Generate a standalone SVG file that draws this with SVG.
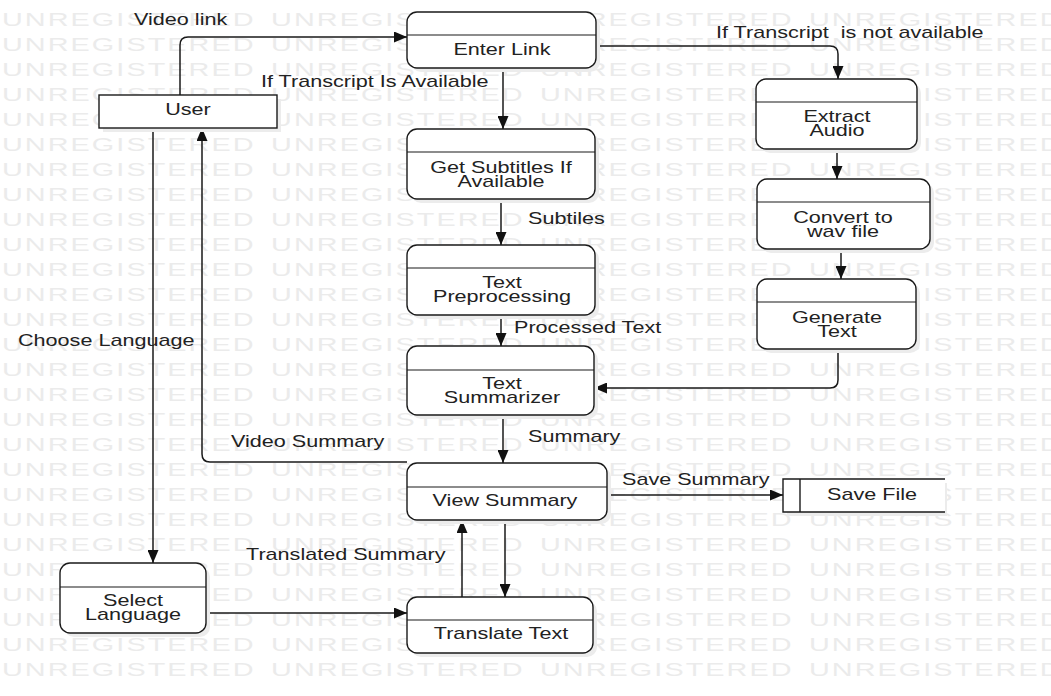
<svg xmlns="http://www.w3.org/2000/svg" width="1051" height="696" viewBox="0 0 1051 696">
<style>
.wm{font-family:"Liberation Sans",Arial,sans-serif;font-size:18px;fill:#ebebeb;letter-spacing:1.3px}
.t{font-family:"Liberation Sans",Arial,sans-serif;font-size:16px;fill:#222}
.c{text-anchor:middle}
.box{fill:#fff;stroke:#1a1a1a;stroke-width:1.4}
.sh{fill:#ececec}
.div{stroke:#1a1a1a;stroke-width:1.2}
.ln{fill:none;stroke:#1a1a1a;stroke-width:1.5}
</style>
<defs>
<marker id="ah" markerUnits="userSpaceOnUse" markerWidth="13" markerHeight="11" refX="13" refY="5.5" orient="auto">
<path d="M0,0 L13,5.5 L0,11 z" fill="#111"/>
</marker>
</defs>
<rect width="1051" height="696" fill="#fff"/>
<g id="watermark" transform="scale(1.6 1)">
<text class="wm" y="26"><tspan x="1.25">UNREGISTERED</tspan><tspan x="169.4">UNREGISTERED</tspan><tspan x="337.5">UNREGISTERED</tspan><tspan x="505.6">UNREGISTERED</tspan></text>
<text class="wm" y="51"><tspan x="1.25">UNREGISTERED</tspan><tspan x="169.4">UNREGISTERED</tspan><tspan x="337.5">UNREGISTERED</tspan><tspan x="505.6">UNREGISTERED</tspan></text>
<text class="wm" y="76"><tspan x="1.25">UNREGISTERED</tspan><tspan x="169.4">UNREGISTERED</tspan><tspan x="337.5">UNREGISTERED</tspan><tspan x="505.6">UNREGISTERED</tspan></text>
<text class="wm" y="101"><tspan x="1.25">UNREGISTERED</tspan><tspan x="169.4">UNREGISTERED</tspan><tspan x="337.5">UNREGISTERED</tspan><tspan x="505.6">UNREGISTERED</tspan></text>
<text class="wm" y="126"><tspan x="1.25">UNREGISTERED</tspan><tspan x="169.4">UNREGISTERED</tspan><tspan x="337.5">UNREGISTERED</tspan><tspan x="505.6">UNREGISTERED</tspan></text>
<text class="wm" y="151"><tspan x="1.25">UNREGISTERED</tspan><tspan x="169.4">UNREGISTERED</tspan><tspan x="337.5">UNREGISTERED</tspan><tspan x="505.6">UNREGISTERED</tspan></text>
<text class="wm" y="176"><tspan x="1.25">UNREGISTERED</tspan><tspan x="169.4">UNREGISTERED</tspan><tspan x="337.5">UNREGISTERED</tspan><tspan x="505.6">UNREGISTERED</tspan></text>
<text class="wm" y="201"><tspan x="1.25">UNREGISTERED</tspan><tspan x="169.4">UNREGISTERED</tspan><tspan x="337.5">UNREGISTERED</tspan><tspan x="505.6">UNREGISTERED</tspan></text>
<text class="wm" y="226"><tspan x="1.25">UNREGISTERED</tspan><tspan x="169.4">UNREGISTERED</tspan><tspan x="337.5">UNREGISTERED</tspan><tspan x="505.6">UNREGISTERED</tspan></text>
<text class="wm" y="251"><tspan x="1.25">UNREGISTERED</tspan><tspan x="169.4">UNREGISTERED</tspan><tspan x="337.5">UNREGISTERED</tspan><tspan x="505.6">UNREGISTERED</tspan></text>
<text class="wm" y="276"><tspan x="1.25">UNREGISTERED</tspan><tspan x="169.4">UNREGISTERED</tspan><tspan x="337.5">UNREGISTERED</tspan><tspan x="505.6">UNREGISTERED</tspan></text>
<text class="wm" y="301"><tspan x="1.25">UNREGISTERED</tspan><tspan x="169.4">UNREGISTERED</tspan><tspan x="337.5">UNREGISTERED</tspan><tspan x="505.6">UNREGISTERED</tspan></text>
<text class="wm" y="326"><tspan x="1.25">UNREGISTERED</tspan><tspan x="169.4">UNREGISTERED</tspan><tspan x="337.5">UNREGISTERED</tspan><tspan x="505.6">UNREGISTERED</tspan></text>
<text class="wm" y="351"><tspan x="1.25">UNREGISTERED</tspan><tspan x="169.4">UNREGISTERED</tspan><tspan x="337.5">UNREGISTERED</tspan><tspan x="505.6">UNREGISTERED</tspan></text>
<text class="wm" y="376"><tspan x="1.25">UNREGISTERED</tspan><tspan x="169.4">UNREGISTERED</tspan><tspan x="337.5">UNREGISTERED</tspan><tspan x="505.6">UNREGISTERED</tspan></text>
<text class="wm" y="401"><tspan x="1.25">UNREGISTERED</tspan><tspan x="169.4">UNREGISTERED</tspan><tspan x="337.5">UNREGISTERED</tspan><tspan x="505.6">UNREGISTERED</tspan></text>
<text class="wm" y="426"><tspan x="1.25">UNREGISTERED</tspan><tspan x="169.4">UNREGISTERED</tspan><tspan x="337.5">UNREGISTERED</tspan><tspan x="505.6">UNREGISTERED</tspan></text>
<text class="wm" y="451"><tspan x="1.25">UNREGISTERED</tspan><tspan x="169.4">UNREGISTERED</tspan><tspan x="337.5">UNREGISTERED</tspan><tspan x="505.6">UNREGISTERED</tspan></text>
<text class="wm" y="476"><tspan x="1.25">UNREGISTERED</tspan><tspan x="169.4">UNREGISTERED</tspan><tspan x="337.5">UNREGISTERED</tspan><tspan x="505.6">UNREGISTERED</tspan></text>
<text class="wm" y="501"><tspan x="1.25">UNREGISTERED</tspan><tspan x="169.4">UNREGISTERED</tspan><tspan x="337.5">UNREGISTERED</tspan><tspan x="505.6">UNREGISTERED</tspan></text>
<text class="wm" y="526"><tspan x="1.25">UNREGISTERED</tspan><tspan x="169.4">UNREGISTERED</tspan><tspan x="337.5">UNREGISTERED</tspan><tspan x="505.6">UNREGISTERED</tspan></text>
<text class="wm" y="551"><tspan x="1.25">UNREGISTERED</tspan><tspan x="169.4">UNREGISTERED</tspan><tspan x="337.5">UNREGISTERED</tspan><tspan x="505.6">UNREGISTERED</tspan></text>
<text class="wm" y="576"><tspan x="1.25">UNREGISTERED</tspan><tspan x="169.4">UNREGISTERED</tspan><tspan x="337.5">UNREGISTERED</tspan><tspan x="505.6">UNREGISTERED</tspan></text>
<text class="wm" y="601"><tspan x="1.25">UNREGISTERED</tspan><tspan x="169.4">UNREGISTERED</tspan><tspan x="337.5">UNREGISTERED</tspan><tspan x="505.6">UNREGISTERED</tspan></text>
<text class="wm" y="626"><tspan x="1.25">UNREGISTERED</tspan><tspan x="169.4">UNREGISTERED</tspan><tspan x="337.5">UNREGISTERED</tspan><tspan x="505.6">UNREGISTERED</tspan></text>
<text class="wm" y="651"><tspan x="1.25">UNREGISTERED</tspan><tspan x="169.4">UNREGISTERED</tspan><tspan x="337.5">UNREGISTERED</tspan><tspan x="505.6">UNREGISTERED</tspan></text>
<text class="wm" y="676"><tspan x="1.25">UNREGISTERED</tspan><tspan x="169.4">UNREGISTERED</tspan><tspan x="337.5">UNREGISTERED</tspan><tspan x="505.6">UNREGISTERED</tspan></text>
</g>

<g id="connectors">
<path class="ln" d="M180,95 V45 Q180,37 188,37 H407" marker-end="url(#ah)"/>
<path class="ln" d="M503,68 V129" marker-end="url(#ah)"/>
<path class="ln" d="M596,46 H830 Q838,46 838,54 V79" marker-end="url(#ah)"/>
<path class="ln" d="M501,199 V245" marker-end="url(#ah)"/>
<path class="ln" d="M501,315 V346" marker-end="url(#ah)"/>
<path class="ln" d="M837,149 V179" marker-end="url(#ah)"/>
<path class="ln" d="M841,249 V279" marker-end="url(#ah)"/>
<path class="ln" d="M838,349 V380 Q838,388 830,388 H594" marker-end="url(#ah)"/>
<path class="ln" d="M503,415 V463" marker-end="url(#ah)"/>
<path class="ln" d="M407,462 H210 Q202,462 202,454 V128" marker-end="url(#ah)"/>
<path class="ln" d="M153,128 V563" marker-end="url(#ah)"/>
<path class="ln" d="M607,495 H783" marker-end="url(#ah)"/>
<path class="ln" d="M505,520 V597" marker-end="url(#ah)"/>
<path class="ln" d="M462,597 V520" marker-end="url(#ah)"/>
<path class="ln" d="M206,613 H407" marker-end="url(#ah)"/>
<text class="t" transform="translate(134,25) scale(1.35 1)">Video link</text>
<text class="t" transform="translate(261,87) scale(1.35 1)">If Transcript Is Available</text>
<text class="t" xml:space="preserve" transform="translate(716,38) scale(1.35 1)">If Transcript  is not available</text>
<text class="t" transform="translate(528,224) scale(1.35 1)">Subtiles</text>
<text class="t" transform="translate(514,333) scale(1.35 1)">Processed Text</text>
<text class="t" transform="translate(18,346) scale(1.35 1)">Choose Language</text>
<text class="t" transform="translate(231,447) scale(1.35 1)">Video Summary</text>
<text class="t" transform="translate(528,442) scale(1.35 1)">Summary</text>
<text class="t" transform="translate(622,485) scale(1.35 1)">Save Summary</text>
<text class="t" transform="translate(246,560) scale(1.35 1)">Translated Summary</text>
</g>

<g id="user">
<rect class="sh" x="103" y="99" width="178" height="33"/>
<rect class="box" x="99" y="95" width="178" height="33"/>
<text class="t c" transform="translate(188,115) scale(1.35 1)">User</text>
</g>

<g id="enter-link">
<rect class="sh" x="411" y="16" width="189" height="56" rx="10"/>
<rect class="box" x="407" y="12" width="189" height="56" rx="10"/>
<line class="div" x1="407" y1="35" x2="596" y2="35"/>
<text class="t c" transform="translate(502,55) scale(1.35 1)">Enter Link</text>
</g>

<g id="get-subtitles">
<rect class="sh" x="411" y="133" width="188" height="70" rx="10"/>
<rect class="box" x="407" y="129" width="188" height="70" rx="10"/>
<line class="div" x1="407" y1="152" x2="595" y2="152"/>
<text class="t c" transform="translate(501,173) scale(1.35 1)">Get Subtitles If</text>
<text class="t c" transform="translate(501,187) scale(1.35 1)">Available</text>
</g>

<g id="text-preprocessing">
<rect class="sh" x="411" y="249" width="188" height="70" rx="10"/>
<rect class="box" x="407" y="245" width="188" height="70" rx="10"/>
<line class="div" x1="407" y1="268" x2="595" y2="268"/>
<text class="t c" transform="translate(502,288) scale(1.35 1)">Text</text>
<text class="t c" transform="translate(502,302) scale(1.35 1)">Preprocessing</text>
</g>

<g id="text-summarizer">
<rect class="sh" x="411" y="350" width="187" height="69" rx="10"/>
<rect class="box" x="407" y="346" width="187" height="69" rx="10"/>
<line class="div" x1="407" y1="370" x2="594" y2="370"/>
<text class="t c" transform="translate(502,389) scale(1.35 1)">Text</text>
<text class="t c" transform="translate(502,403) scale(1.35 1)">Summarizer</text>
</g>

<g id="view-summary">
<rect class="sh" x="411" y="467" width="200" height="57" rx="10"/>
<rect class="box" x="407" y="463" width="200" height="57" rx="10"/>
<line class="div" x1="407" y1="487" x2="607" y2="487"/>
<text class="t c" transform="translate(505,506) scale(1.35 1)">View Summary</text>
</g>

<g id="translate-text">
<rect class="sh" x="411" y="601" width="186" height="56" rx="10"/>
<rect class="box" x="407" y="597" width="186" height="56" rx="10"/>
<line class="div" x1="407" y1="620" x2="593" y2="620"/>
<text class="t c" transform="translate(501,639) scale(1.35 1)">Translate Text</text>
</g>

<g id="select-language">
<rect class="sh" x="64" y="567" width="146" height="70" rx="10"/>
<rect class="box" x="60" y="563" width="146" height="70" rx="10"/>
<line class="div" x1="60" y1="587" x2="206" y2="587"/>
<text class="t c" transform="translate(133,606) scale(1.35 1)">Select</text>
<text class="t c" transform="translate(133,620) scale(1.35 1)">Language</text>
</g>

<g id="extract-audio">
<rect class="sh" x="760" y="83" width="161" height="70" rx="10"/>
<rect class="box" x="756" y="79" width="161" height="70" rx="10"/>
<line class="div" x1="756" y1="102" x2="917" y2="102"/>
<text class="t c" transform="translate(837,122) scale(1.35 1)">Extract</text>
<text class="t c" transform="translate(837,136) scale(1.35 1)">Audio</text>
</g>

<g id="convert-wav">
<rect class="sh" x="761" y="183" width="173" height="70" rx="10"/>
<rect class="box" x="757" y="179" width="173" height="70" rx="10"/>
<line class="div" x1="757" y1="202" x2="930" y2="202"/>
<text class="t c" transform="translate(843,223) scale(1.35 1)">Convert to</text>
<text class="t c" transform="translate(843,237) scale(1.35 1)">wav file</text>
</g>

<g id="generate-text">
<rect class="sh" x="761" y="283" width="159" height="70" rx="10"/>
<rect class="box" x="757" y="279" width="159" height="70" rx="10"/>
<line class="div" x1="757" y1="302" x2="916" y2="302"/>
<text class="t c" transform="translate(837,323) scale(1.35 1)">Generate</text>
<text class="t c" transform="translate(837,337) scale(1.35 1)">Text</text>
</g>

<g id="save-file">
<rect class="sh" x="787" y="483" width="160" height="33"/>
<rect x="783" y="479" width="162" height="33" fill="#fff"/>
<path d="M945,479 H783 V512 H945 M800,479 V512" fill="none" stroke="#1a1a1a" stroke-width="1.4"/>
<text class="t c" transform="translate(872,500) scale(1.35 1)">Save File</text>
</g>
</svg>
